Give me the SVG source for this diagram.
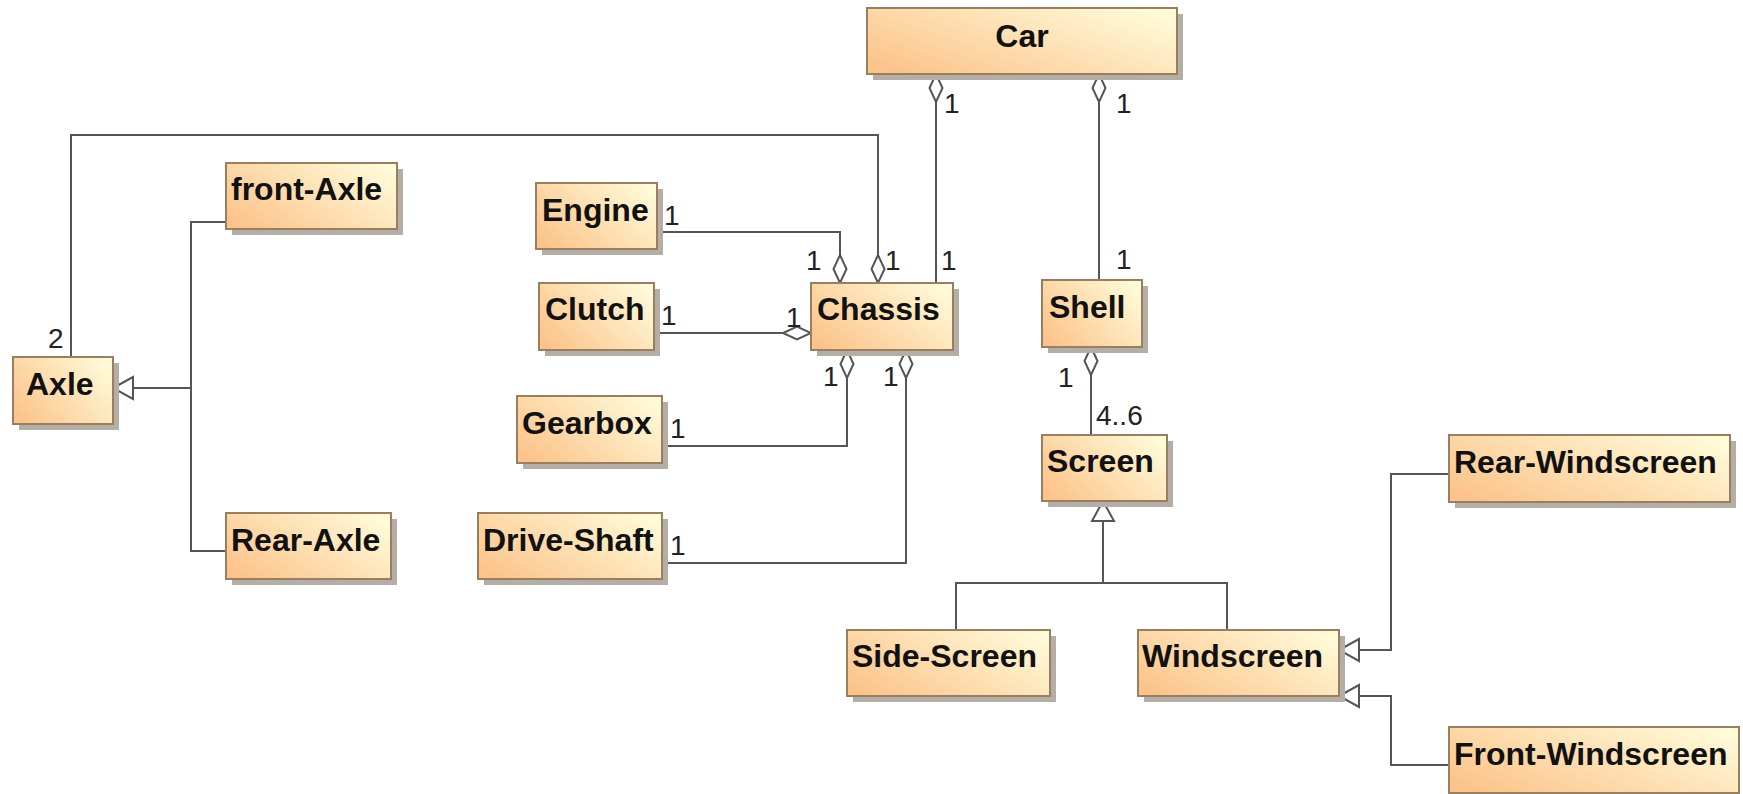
<svg xmlns="http://www.w3.org/2000/svg" width="1743" height="794" viewBox="0 0 1743 794">
<defs>
<linearGradient id="fill" x1="0" y1="0.8" x2="1" y2="0.2">
<stop offset="0" stop-color="#FCC48C"/>
<stop offset="1" stop-color="#FFFAD8"/>
</linearGradient>
<marker id="dia" viewBox="0 -8 30 16" refX="0" refY="0" markerWidth="30" markerHeight="16" markerUnits="userSpaceOnUse" orient="auto">
<path d="M0,0 L14,-6.5 L28,0 L14,6.5 Z" fill="#fff" stroke="#555" stroke-width="2"/>
</marker>
<marker id="tri" viewBox="-1 -13 24 26" refX="0" refY="0" markerWidth="24" markerHeight="26" markerUnits="userSpaceOnUse" orient="auto">
<path d="M0,0 L20,-11 L20,11 Z" fill="#fff" stroke="#555" stroke-width="2"/>
</marker>
</defs>
<style>
.box{fill:url(#fill);stroke:#9A7E60;stroke-width:2}
.sh{fill:#B5AEA6}
.nm{font-family:"Liberation Sans",Arial,sans-serif;font-weight:bold;font-size:32px;fill:#111}
.m{font-family:"Liberation Sans",Arial,sans-serif;font-size:28px;fill:#222}
.c{fill:none;stroke:#555;stroke-width:2}
</style>
<rect width="1743" height="794" fill="#fff"/>
<g id="connectors">
<path class="c" d="M936,74 V283" marker-start="url(#dia)"/>
<path class="c" d="M1099,74 V280" marker-start="url(#dia)"/>
<path class="c" d="M878,283 V135 H71 V357" marker-start="url(#dia)"/>
<path class="c" d="M840,283 V232 H657" marker-start="url(#dia)"/>
<path class="c" d="M811,333 H654" marker-start="url(#dia)"/>
<path class="c" d="M847,350 V446 H662" marker-start="url(#dia)"/>
<path class="c" d="M906,350 V563 H662" marker-start="url(#dia)"/>
<path class="c" d="M1091,347 V435" marker-start="url(#dia)"/>
<path class="c" d="M113,388 H191" marker-start="url(#tri)"/>
<path class="c" d="M226,222 H191 V551 H226"/>
<path class="c" d="M1103,501 V583" marker-start="url(#tri)"/>
<path class="c" d="M956,630 V583 H1227 V630"/>
<path class="c" d="M1339,650 H1391 V474 H1449" marker-start="url(#tri)"/>
<path class="c" d="M1339,696 H1391 V765 H1449" marker-start="url(#tri)"/>
<text class="m" x="944" y="113">1</text>
<text class="m" x="1116" y="113">1</text>
<text class="m" x="48" y="348">2</text>
<text class="m" x="664" y="225">1</text>
<text class="m" x="806" y="270">1</text>
<text class="m" x="885" y="270">1</text>
<text class="m" x="941" y="270">1</text>
<text class="m" x="661" y="325">1</text>
<text class="m" x="786" y="327">1</text>
<text class="m" x="823" y="386">1</text>
<text class="m" x="883" y="386">1</text>
<text class="m" x="670" y="438">1</text>
<text class="m" x="670" y="555">1</text>
<text class="m" x="1116" y="269">1</text>
<text class="m" x="1058" y="387">1</text>
<text class="m" x="1096" y="425">4..6</text>
</g>
<g id="car"><rect class="sh" x="873" y="14" width="310" height="66"/><rect class="box" x="867" y="8" width="310" height="66"/><text class="nm" x="1022" y="47" text-anchor="middle">Car</text></g>
<g id="front-axle"><rect class="sh" x="232" y="169" width="171" height="66"/><rect class="box" x="226" y="163" width="171" height="66"/><text class="nm" x="231" y="200">front-Axle</text></g>
<g id="axle"><rect class="sh" x="19" y="363" width="100" height="67"/><rect class="box" x="13" y="357" width="100" height="67"/><text class="nm" x="26" y="395">Axle</text></g>
<g id="rear-axle"><rect class="sh" x="232" y="519" width="165" height="66"/><rect class="box" x="226" y="513" width="165" height="66"/><text class="nm" x="231" y="551">Rear-Axle</text></g>
<g id="engine"><rect class="sh" x="542" y="189" width="121" height="66"/><rect class="box" x="536" y="183" width="121" height="66"/><text class="nm" x="542" y="221">Engine</text></g>
<g id="clutch"><rect class="sh" x="545" y="289" width="115" height="67"/><rect class="box" x="539" y="283" width="115" height="67"/><text class="nm" x="545" y="320">Clutch</text></g>
<g id="chassis"><rect class="sh" x="817" y="289" width="142" height="67"/><rect class="box" x="811" y="283" width="142" height="67"/><text class="nm" x="817" y="320">Chassis</text></g>
<g id="gearbox"><rect class="sh" x="523" y="402" width="145" height="67"/><rect class="box" x="517" y="396" width="145" height="67"/><text class="nm" x="522" y="434">Gearbox</text></g>
<g id="drive-shaft"><rect class="sh" x="484" y="519" width="184" height="66"/><rect class="box" x="478" y="513" width="184" height="66"/><text class="nm" x="483" y="551">Drive-Shaft</text></g>
<g id="shell"><rect class="sh" x="1048" y="286" width="100" height="67"/><rect class="box" x="1042" y="280" width="100" height="67"/><text class="nm" x="1049" y="318">Shell</text></g>
<g id="screen"><rect class="sh" x="1048" y="441" width="125" height="66"/><rect class="box" x="1042" y="435" width="125" height="66"/><text class="nm" x="1047" y="472">Screen</text></g>
<g id="side-screen"><rect class="sh" x="853" y="636" width="203" height="66"/><rect class="box" x="847" y="630" width="203" height="66"/><text class="nm" x="852" y="667">Side-Screen</text></g>
<g id="windscreen"><rect class="sh" x="1144" y="636" width="201" height="66"/><rect class="box" x="1138" y="630" width="201" height="66"/><text class="nm" x="1142" y="667">Windscreen</text></g>
<g id="rear-windscreen"><rect class="sh" x="1455" y="441" width="281" height="67"/><rect class="box" x="1449" y="435" width="281" height="67"/><text class="nm" x="1454" y="473">Rear-Windscreen</text></g>
<g id="front-windscreen"><rect class="sh" x="1455" y="733" width="284" height="66"/><rect class="box" x="1449" y="727" width="290" height="66"/><text class="nm" x="1454" y="765">Front-Windscreen</text></g>
</svg>
